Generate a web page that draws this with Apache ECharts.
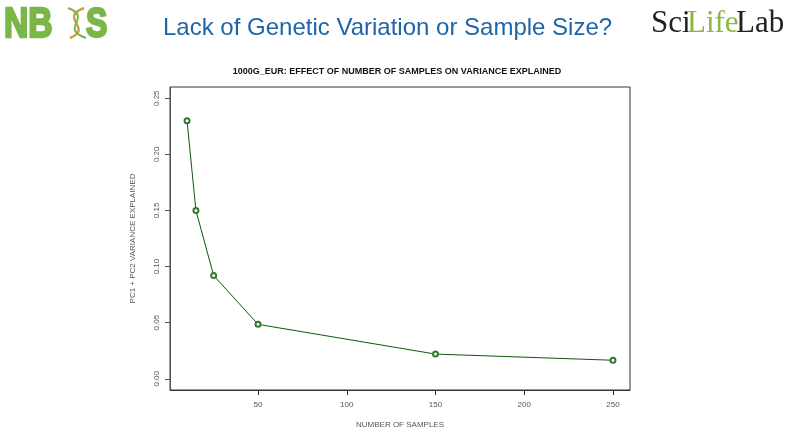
<!DOCTYPE html>
<html>
<head>
<meta charset="utf-8">
<script src="https://cdn.jsdelivr.net/npm/echarts@6/dist/echarts.min.js"></script>
<style>
  html, body { margin: 0; padding: 0; background: #fff; }
  #main { width: 794px; height: 447px; }
</style>
</head>
<body>
<div id="main"></div>
<script>
// number of samples vs PC1 + PC2 variance explained
var sampleCounts = [10, 15, 25, 50, 150, 250];
var varianceExplained = [0.230, 0.150, 0.092, 0.0485, 0.022, 0.0165];
var xTicks = [50, 100, 150, 200, 250];
var yTicks = [0, 0.05, 0.10, 0.15, 0.20, 0.25];

var points = sampleCounts.map(function (n, i) { return [n, varianceExplained[i]]; });

var chart = echarts.init(document.getElementById('main'));

var labelStyle = { fontFamily: 'Liberation Sans, Arial', fontSize: 8, color: '#555' };
var logoFont = 'bold 42px "Liberation Sans", Arial';
var serif = '31px "Liberation Serif", "Times New Roman"';

chart.setOption({
    backgroundColor: '#fff',
    animation: false,
    title: {
        text: '1000G_EUR: EFFECT OF NUMBER OF SAMPLES ON VARIANCE EXPLAINED',
        left: 'center',
        top: 62,
        textStyle: { fontFamily: 'Liberation Sans, Arial', fontSize: 9, fontWeight: 'bold', color: '#111' }
    },
    grid: {
        left: 170, right: 164, top: 87, bottom: 57,
        show: true, borderColor: '#333', borderWidth: 1, backgroundColor: 'transparent'
    },
    xAxis: {
        type: 'value',
        min: 0.4,
        max: 259.6,
        name: 'NUMBER OF SAMPLES',
        nameLocation: 'middle',
        nameGap: 31,
        nameTextStyle: labelStyle,
        axisLine: { show: true, onZero: false, lineStyle: { color: '#333', width: 1 } },
        splitLine: { show: false },
        axisTick: { show: true, length: 5, customValues: xTicks, lineStyle: { color: '#333' } },
        axisLabel: Object.assign({ margin: 11, customValues: xTicks }, labelStyle)
    },
    yAxis: {
        type: 'value',
        min: -0.01,
        max: 0.26,
        name: 'PC1 + PC2 VARIANCE EXPLAINED',
        nameLocation: 'middle',
        nameGap: 33,
        nameTextStyle: labelStyle,
        axisLine: { show: true, onZero: false, lineStyle: { color: '#555', width: 1 } },
        splitLine: { show: false },
        axisTick: { show: true, length: 5, customValues: yTicks, lineStyle: { color: '#555' } },
        axisLabel: Object.assign({
            margin: 9,
            rotate: 90,
            customValues: yTicks,
            formatter: function (v) { return v.toFixed(2); }
        }, labelStyle)
    },
    series: [{
        type: 'line',
        data: points,
        symbol: 'emptyCircle',
        symbolSize: 5,
        lineStyle: { color: '#0b5a0b', width: 1 },
        itemStyle: { color: '#2f7a2f', borderWidth: 0.7 }
    }],
    graphic: [
        // slide heading
        {
            type: 'text', x: 163, y: 16,
            style: { text: 'Lack of Genetic Variation or Sample Size?', fill: '#1f64a8',
                     font: '24px "Liberation Sans", Arial' }
        },
        // NBIS logo
        {
            type: 'text', x: 4, y: 4, scaleX: 0.8,
            style: { text: 'NB', fill: '#7ab648', stroke: '#7ab648', lineWidth: 2.5, font: logoFont }
        },
        {
            type: 'text', x: 86, y: 4, scaleX: 0.76,
            style: { text: 'S', fill: '#7ab648', stroke: '#7ab648', lineWidth: 2.5, font: logoFont }
        },
        {
            type: 'bezierCurve',
            shape: { x1: 84, y1: 8, cpx1: 58, cpy1: 18, cpx2: 94, cpy2: 28, x2: 70, y2: 38 },
            style: { stroke: '#c9a24a', lineWidth: 2.5, fill: null }
        },
        {
            type: 'bezierCurve',
            shape: { x1: 68, y1: 8, cpx1: 94, cpy1: 18, cpx2: 58, cpy2: 28, x2: 86, y2: 38 },
            style: { stroke: '#7ab648', lineWidth: 2, fill: null }
        },
        // SciLifeLab logo
        {
            type: 'text', x: 651, y: 8,
            style: { text: 'Sci', fill: '#222', font: serif }
        },
        {
            type: 'text', x: 687, y: 8,
            style: { text: 'Life', fill: '#8db83e', font: serif }
        },
        {
            type: 'text', x: 736, y: 8,
            style: { text: 'Lab', fill: '#222', font: serif }
        }
    ]
});
</script>
</body>
</html>
